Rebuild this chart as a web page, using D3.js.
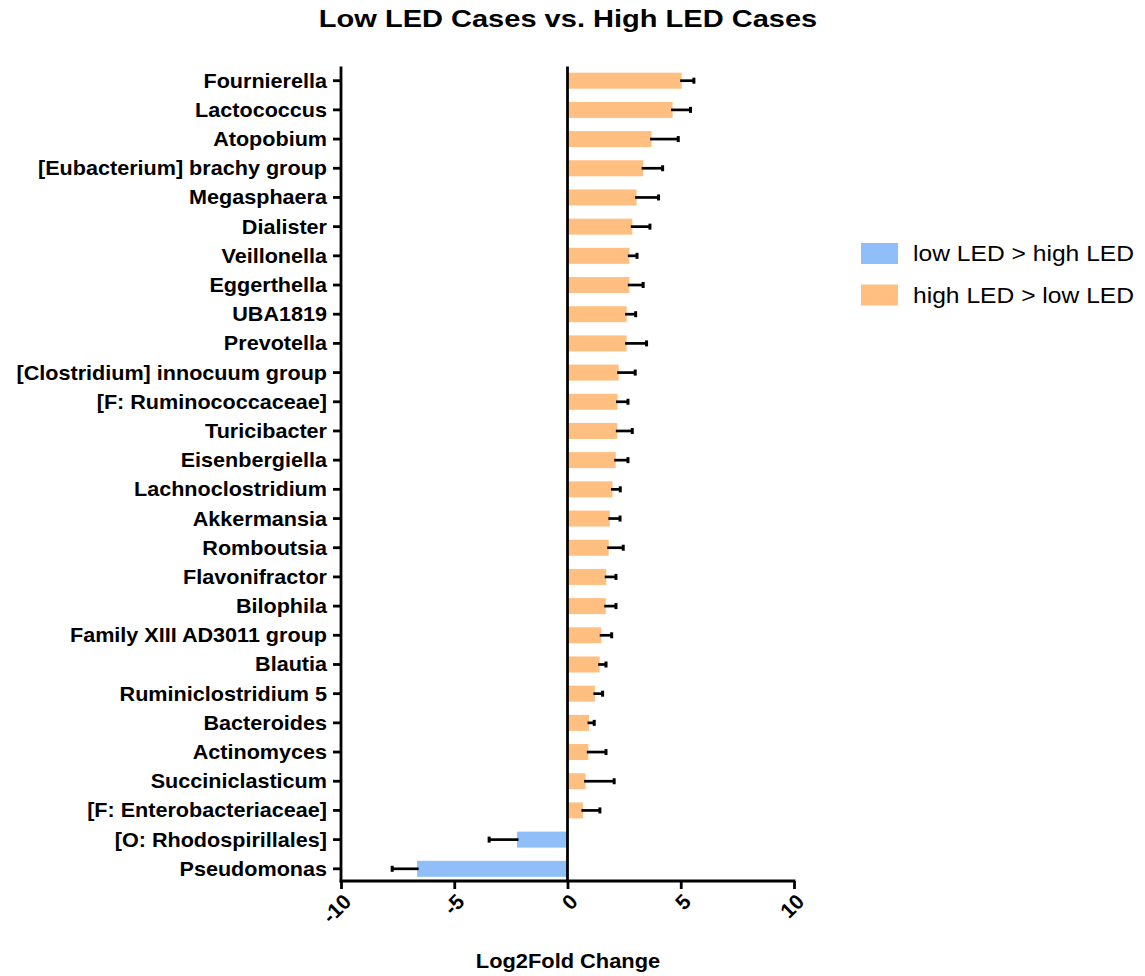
<!DOCTYPE html>
<html>
<head>
<meta charset="utf-8">
<script src="https://cdn.jsdelivr.net/npm/d3@7"></script>
<style>
  html, body { margin: 0; padding: 0; background: #fff; }
  svg { display: block; }
  text { font-family: "Liberation Sans", Arial, Helvetica, sans-serif; fill: #000; }
</style>
</head>
<body>
<svg id="chart" width="1145" height="976"></svg>
<script>
// Genera, top to bottom
const genera = [
  "Fournierella", "Lactococcus", "Atopobium", "[Eubacterium] brachy group",
  "Megasphaera", "Dialister", "Veillonella", "Eggerthella", "UBA1819",
  "Prevotella", "[Clostridium] innocuum group", "[F: Ruminococcaceae]",
  "Turicibacter", "Eisenbergiella", "Lachnoclostridium", "Akkermansia",
  "Romboutsia", "Flavonifractor", "Bilophila", "Family XIII AD3011 group",
  "Blautia", "Ruminiclostridium 5", "Bacteroides", "Actinomyces",
  "Succiniclasticum", "[F: Enterobacteriaceae]", "[O: Rhodospirillales]",
  "Pseudomonas"
];
// Log2 fold change per genus
const log2fc = [
  5.04, 4.64, 3.71, 3.34, 3.05, 2.86, 2.73, 2.73, 2.61, 2.61,
  2.26, 2.21, 2.20, 2.13, 1.99, 1.87, 1.82, 1.71, 1.69, 1.49,
  1.42, 1.21, 0.95, 0.92, 0.80, 0.68, -2.23, -6.64
];
// Standard error (drawn outward from the bar end)
const stdErr = [
  0.54, 0.79, 1.18, 0.86, 0.97, 0.78, 0.34, 0.61, 0.40, 0.88,
  0.73, 0.46, 0.66, 0.54, 0.34, 0.45, 0.64, 0.43, 0.45, 0.46,
  0.28, 0.34, 0.23, 0.78, 1.26, 0.75, 1.23, 1.10
];
const xTicks = [-10, -5, 0, 5, 10];
const legendLabels = ["low LED > high LED", "high LED > low LED"];
const titleText = "Low LED Cases vs. High LED Cases";
const xAxisTitle = "Log2Fold Change";

const colors = { down: "#8FBEF8", up: "#FFBF80" };

const rows = genera.map((g, i) => ({ name: g, value: log2fc[i], err: stdErr[i] }));

const svg = d3.select("#chart");

const plot = { left: 341, right: 794, top: 66.5, bottom: 881 };

const x = d3.scaleLinear().domain([-10, 10]).range([plot.left, plot.right]);
// one band per genus; bars are centred in their band
const y = d3.scaleBand()
  .domain(genera)
  .range([66.1, 883.4])
  .padding(0);

const barH = 16;
const rowCenter = d => y(d) + y.bandwidth() / 2;

// Bars
svg.append("g")
  .selectAll("rect")
  .data(rows)
  .join("rect")
  .attr("x", d => Math.min(x(0), x(d.value)))
  .attr("width", d => Math.abs(x(d.value) - x(0)))
  .attr("y", d => rowCenter(d.name) - barH / 2)
  .attr("height", barH)
  .attr("fill", d => d.value < 0 ? colors.down : colors.up);

// Error bars
const eb = svg.append("g").attr("stroke", "#000").attr("stroke-width", 2.7);
eb.selectAll("line.whisker")
  .data(rows)
  .join("line")
  .attr("class", "whisker")
  .attr("x1", d => x(d.value) - Math.sign(d.value) * 1.5)
  .attr("x2", d => x(d.value + Math.sign(d.value) * d.err))
  .attr("y1", d => rowCenter(d.name))
  .attr("y2", d => rowCenter(d.name));
eb.selectAll("line.cap")
  .data(rows)
  .join("line")
  .attr("class", "cap")
  .attr("stroke-width", 3)
  .attr("x1", d => x(d.value + Math.sign(d.value) * d.err))
  .attr("x2", d => x(d.value + Math.sign(d.value) * d.err))
  .attr("y1", d => rowCenter(d.name) - 3)
  .attr("y2", d => rowCenter(d.name) + 3);

// Zero line
svg.append("line")
  .attr("x1", x(0)).attr("x2", x(0))
  .attr("y1", plot.top).attr("y2", plot.bottom)
  .attr("stroke", "#000").attr("stroke-width", 2.8);

// Y axis
const yAxis = svg.append("g")
  .attr("transform", `translate(${plot.left},0)`)
  .call(d3.axisLeft(y).tickSize(8).tickPadding(5));
yAxis.select(".domain").remove();
yAxis.selectAll(".tick line").attr("stroke", "#000").attr("stroke-width", 2.8);
yAxis.selectAll(".tick text")
  .attr("font-size", 20)
  .attr("font-weight", "bold")
  .attr("dy", "0.35em")
  .attr("transform", "scale(1.08,1)")
  .attr("x", -14 / 1.08)
  .style("font-family", "'Liberation Sans', Arial, sans-serif");
svg.append("line")
  .attr("x1", plot.left).attr("x2", plot.left)
  .attr("y1", plot.top).attr("y2", plot.bottom + 1.4)
  .attr("stroke", "#000").attr("stroke-width", 2.8);

// X axis (plain hyphen for negatives)
const xAxis = svg.append("g")
  .attr("transform", `translate(0,${plot.bottom})`)
  .call(d3.axisBottom(x).tickValues(xTicks).tickSize(8).tickFormat(d => String(d)));
xAxis.select(".domain").remove();
xAxis.selectAll(".tick line").attr("stroke", "#000").attr("stroke-width", 2.8);
xAxis.selectAll(".tick text")
  .attr("font-size", 21)
  .attr("font-weight", "bold")
  .attr("text-anchor", "end")
  .attr("x", 0).attr("y", 0).attr("dy", 0)
  .attr("transform", "translate(11,22) rotate(-45)")
  .style("font-family", "'Liberation Sans', Arial, sans-serif");
svg.append("line")
  .attr("x1", plot.left - 1.4).attr("x2", plot.right + 1.4)
  .attr("y1", plot.bottom).attr("y2", plot.bottom)
  .attr("stroke", "#000").attr("stroke-width", 2.8);

// Title
svg.append("text")
  .attr("transform", `translate(568,27) scale(1.21,1)`)
  .attr("text-anchor", "middle")
  .attr("font-size", 24)
  .attr("font-weight", "bold")
  .text(titleText);

// X axis title
svg.append("text")
  .attr("transform", `translate(568,968) scale(1.04,1)`)
  .attr("text-anchor", "middle")
  .attr("font-size", 21)
  .attr("font-weight", "bold")
  .text(xAxisTitle);

// Legend
const legend = svg.append("g").attr("transform", "translate(861,243)");
const legendColors = [colors.down, colors.up];
legendLabels.forEach((lab, i) => {
  const g = legend.append("g").attr("transform", `translate(0,${i * 41.5})`);
  g.append("rect").attr("width", 37).attr("height", 21).attr("fill", legendColors[i]);
  g.append("text")
    .attr("transform", "translate(52,18) scale(1.12,1)")
    .attr("font-size", 22)
    .text(lab);
});
</script>
</body>
</html>
